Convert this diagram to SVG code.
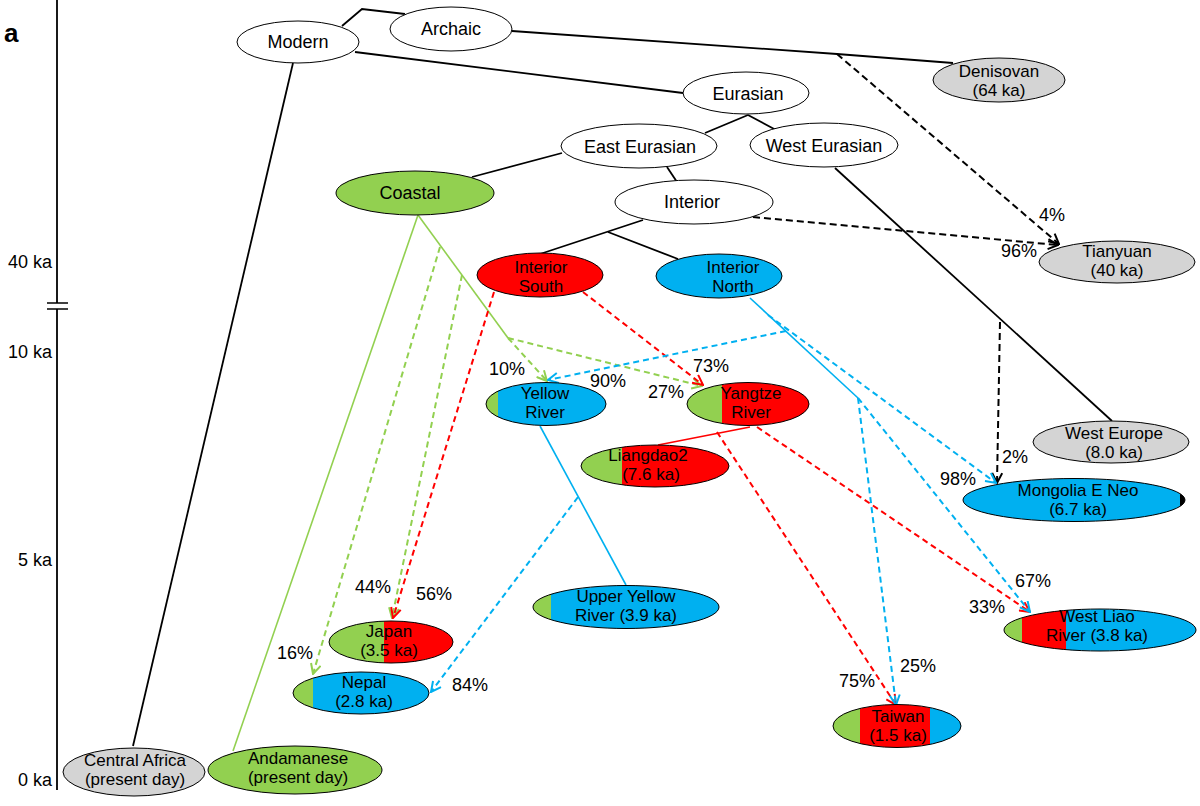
<svg xmlns="http://www.w3.org/2000/svg" width="1200" height="806" viewBox="0 0 1200 806">
<style>
text{font-family:"Liberation Sans",Arial,sans-serif;font-size:18px;fill:#000;text-anchor:middle}
.t2{font-size:17px}
.ax{text-anchor:end}
.node{stroke:#000;stroke-width:1}
.w{fill:#fff}
.g{fill:#d4d4d4}
.cg{fill:#92d050}
.cr{fill:#ff0000}
.cb{fill:#00b0f0}
.ol{fill:none;stroke:#000;stroke-width:1}
.k{fill:none;stroke:#000;stroke-width:1.8}
.kd{fill:none;stroke:#000;stroke-width:2;stroke-dasharray:7 4;marker-end:url(#ak)}
.gs{fill:none;stroke:#92d050;stroke-width:1.6}
.gd{fill:none;stroke:#92d050;stroke-width:2;stroke-dasharray:6 4;marker-end:url(#ag)}
.rs{fill:none;stroke:#ff0000;stroke-width:1.6}
.rd{fill:none;stroke:#ff0000;stroke-width:2;stroke-dasharray:6 4;marker-end:url(#ar)}
.bs{fill:none;stroke:#00b0f0;stroke-width:1.6}
.bd{fill:none;stroke:#00b0f0;stroke-width:2;stroke-dasharray:6 4;marker-end:url(#ab)}
</style>
<defs>
<marker id="ak" viewBox="0 0 12 12" refX="11" refY="6" markerWidth="12" markerHeight="12" markerUnits="userSpaceOnUse" orient="auto"><path d="M1,1 L11,6 L1,11" fill="none" stroke="#000" stroke-width="2"/></marker>
<marker id="ag" viewBox="0 0 12 12" refX="11" refY="6" markerWidth="12" markerHeight="12" markerUnits="userSpaceOnUse" orient="auto"><path d="M1,1 L11,6 L1,11" fill="none" stroke="#92d050" stroke-width="2"/></marker>
<marker id="ar" viewBox="0 0 12 12" refX="11" refY="6" markerWidth="12" markerHeight="12" markerUnits="userSpaceOnUse" orient="auto"><path d="M1,1 L11,6 L1,11" fill="none" stroke="#ff0000" stroke-width="2"/></marker>
<marker id="ab" viewBox="0 0 12 12" refX="11" refY="6" markerWidth="12" markerHeight="12" markerUnits="userSpaceOnUse" orient="auto"><path d="M1,1 L11,6 L1,11" fill="none" stroke="#00b0f0" stroke-width="2"/></marker>
<clipPath id="cYR"><ellipse cx="546" cy="404" rx="60" ry="21.5"/></clipPath>
<clipPath id="cYZ"><ellipse cx="748" cy="404" rx="61" ry="21.5"/></clipPath>
<clipPath id="cLD"><ellipse cx="655" cy="466" rx="74" ry="21"/></clipPath>
<clipPath id="cMG"><ellipse cx="1074" cy="500" rx="111" ry="21.5"/></clipPath>
<clipPath id="cWL"><ellipse cx="1100" cy="630" rx="96" ry="21"/></clipPath>
<clipPath id="cUY"><ellipse cx="626" cy="607" rx="93" ry="21.5"/></clipPath>
<clipPath id="cJP"><ellipse cx="391" cy="642" rx="62" ry="21"/></clipPath>
<clipPath id="cNP"><ellipse cx="361" cy="693" rx="68" ry="21"/></clipPath>
<clipPath id="cTW"><ellipse cx="897" cy="726" rx="64" ry="21.5"/></clipPath>
</defs>

<g id="axis">
<line x1="57" y1="0" x2="57" y2="303" stroke="#000" stroke-width="1.8"/>
<line x1="57" y1="309" x2="57" y2="790" stroke="#000" stroke-width="1.8"/>
<line x1="47" y1="303" x2="68" y2="303" stroke="#000" stroke-width="1.5"/>
<line x1="47" y1="309" x2="68" y2="309" stroke="#000" stroke-width="1.5"/>
<text x="52" y="268" class="ax">40 ka</text>
<text x="52" y="358" class="ax">10 ka</text>
<text x="52" y="566" class="ax">5 ka</text>
<text x="52" y="786" class="ax">0 ka</text>
<text x="4" y="42" style="text-anchor:start;font-weight:bold;font-size:26px">a</text>
</g>

<g id="connectors">
<path class="k" d="M342,26 L362,9 L405,14"/>
<path class="k" d="M512,31 L837,54 L953,63"/>
<path class="k" d="M355,52 L683,93"/>
<path class="k" d="M293,63 L133,746"/>
<path class="k" d="M748,115 L705,133 M748,115 L776,130"/>
<path class="k" d="M562,153 L472,177"/>
<path class="k" d="M667,167 L677,182"/>
<path class="k" d="M643,220 L540,254 M608,232 L678,259"/>
<path class="k" d="M835,168 L1112,421"/>
<path class="kd" d="M837,54 L1059,244"/>
<path class="kd" d="M753,217 L1058,245"/>
<path class="kd" d="M1000,322 L997,483"/>
<path class="gs" d="M418,215 L233,751"/>
<path class="gs" d="M418,215 L508,338"/>
<path class="gd" d="M508,338 L547,381"/>
<path class="gd" d="M508,338 L702,386"/>
<path class="gd" d="M440,247 L313,674"/>
<path class="gd" d="M462,275 L392,618"/>
<path class="rs" d="M750,427 L658,445"/>
<path class="rd" d="M494,292 L393,618"/>
<path class="rd" d="M583,292 L703,385"/>
<path class="rd" d="M757,427 L1030,612"/>
<path class="rd" d="M717,432 L896,705"/>
<path class="bs" d="M750,298 L858,398"/>
<path class="bs" d="M540,426 L626,585"/>
<path class="bd" d="M786,331 L548,380"/>
<path class="bd" d="M768,315 L996,483"/>
<path class="bd" d="M858,398 L896,705"/>
<path class="bd" d="M858,398 L1030,612"/>
<path class="bd" d="M578,497 L431,692"/>
<text x="1052" y="221">4%</text>
<text x="1019" y="257">96%</text>
<text x="507" y="375">10%</text>
<text x="608" y="387">90%</text>
<text x="666" y="398">27%</text>
<text x="711" y="372">73%</text>
<text x="1015" y="463">2%</text>
<text x="958" y="485">98%</text>
<text x="1033" y="587">67%</text>
<text x="987" y="613">33%</text>
<text x="857" y="687">75%</text>
<text x="918" y="672">25%</text>
<text x="373" y="593">44%</text>
<text x="434" y="600">56%</text>
<text x="295" y="659">16%</text>
<text x="470" y="691">84%</text>
</g>

<g id="modern"><ellipse class="node w" cx="298" cy="42" rx="61" ry="21"/><text x="298" y="48">Modern</text></g>
<g id="archaic"><ellipse class="node w" cx="451" cy="29" rx="61" ry="22"/><text x="451" y="35">Archaic</text></g>
<g id="denisovan"><ellipse class="node g" cx="999" cy="80" rx="66" ry="22"/><text class="t2" x="999" y="77">Denisovan</text><text class="t2" x="999" y="96">(64 ka)</text></g>
<g id="eurasian"><ellipse class="node w" cx="746" cy="93" rx="63" ry="21"/><text x="748" y="100">Eurasian</text></g>
<g id="east-eurasian"><ellipse class="node w" cx="639" cy="146" rx="78" ry="22"/><text x="640" y="153">East Eurasian</text></g>
<g id="west-eurasian"><ellipse class="node w" cx="824" cy="145" rx="74" ry="22"/><text x="824" y="152">West Eurasian</text></g>
<g id="coastal"><ellipse class="node cg" cx="415" cy="193" rx="79" ry="22"/><text x="410" y="199">Coastal</text></g>
<g id="interior"><ellipse class="node w" cx="694" cy="202" rx="79" ry="22"/><text x="692" y="208">Interior</text></g>
<g id="interior-south"><ellipse class="node cr" cx="540" cy="275" rx="63" ry="22"/><text class="t2" x="541" y="273">Interior</text><text class="t2" x="541" y="292">South</text></g>
<g id="interior-north"><ellipse class="node cb" cx="719" cy="276" rx="63" ry="22"/><text class="t2" x="733" y="273">Interior</text><text class="t2" x="733" y="292">North</text></g>
<g id="tianyuan"><ellipse class="node g" cx="1117" cy="262" rx="78" ry="21"/><text class="t2" x="1117" y="257">Tianyuan</text><text class="t2" x="1117" y="276">(40 ka)</text></g>

<g id="yellow-river"><g clip-path="url(#cYR)"><rect x="480" y="380" width="18" height="50" class="cg"/><rect x="498" y="380" width="120" height="50" class="cb"/></g><ellipse class="ol" cx="546" cy="404" rx="60" ry="21.5"/><text class="t2" x="545" y="399">Yellow</text><text class="t2" x="545" y="418">River</text></g>
<g id="yangtze-river"><g clip-path="url(#cYZ)"><rect x="680" y="380" width="42" height="50" class="cg"/><rect x="722" y="380" width="100" height="50" class="cr"/></g><ellipse class="ol" cx="748" cy="404" rx="61" ry="21.5"/><text class="t2" x="751" y="399">Yangtze</text><text class="t2" x="751" y="418">River</text></g>
<g id="liangdao2"><g clip-path="url(#cLD)"><rect x="575" y="440" width="47" height="50" class="cg"/><rect x="622" y="440" width="120" height="50" class="cr"/></g><ellipse class="ol" cx="655" cy="466" rx="74" ry="21"/><text class="t2" x="648" y="461">Liangdao2</text><text class="t2" x="651" y="480">(7.6 ka)</text></g>
<g id="west-europe"><ellipse class="node g" cx="1111" cy="442" rx="78" ry="21"/><text class="t2" x="1114" y="439">West Europe</text><text class="t2" x="1114" y="458">(8.0 ka)</text></g>
<g id="mongolia"><g clip-path="url(#cMG)"><rect x="960" y="475" width="220" height="50" class="cb"/><rect x="1180" y="475" width="10" height="50" fill="#000"/></g><ellipse class="ol" cx="1074" cy="500" rx="111" ry="21.5"/><text class="t2" x="1078" y="496">Mongolia E Neo</text><text class="t2" x="1078" y="515">(6.7 ka)</text></g>
<g id="west-liao"><g clip-path="url(#cWL)"><rect x="1000" y="605" width="22" height="50" class="cg"/><rect x="1022" y="605" width="44" height="50" class="cr"/><rect x="1066" y="605" width="135" height="50" class="cb"/></g><ellipse class="ol" cx="1100" cy="630" rx="96" ry="21"/><text class="t2" x="1097" y="622">West Liao</text><text class="t2" x="1097" y="641">River (3.8 ka)</text></g>
<g id="upper-yellow"><g clip-path="url(#cUY)"><rect x="530" y="583" width="21" height="50" class="cg"/><rect x="551" y="583" width="175" height="50" class="cb"/></g><ellipse class="ol" cx="626" cy="607" rx="93" ry="21.5"/><text class="t2" x="626" y="602">Upper Yellow</text><text class="t2" x="626" y="621">River (3.9 ka)</text></g>
<g id="japan"><g clip-path="url(#cJP)"><rect x="325" y="618" width="59" height="50" class="cg"/><rect x="384" y="618" width="75" height="50" class="cr"/></g><ellipse class="ol" cx="391" cy="642" rx="62" ry="21"/><text class="t2" x="389" y="637">Japan</text><text class="t2" x="389" y="656">(3.5 ka)</text></g>
<g id="nepal"><g clip-path="url(#cNP)"><rect x="290" y="668" width="23" height="50" class="cg"/><rect x="313" y="668" width="125" height="50" class="cb"/></g><ellipse class="ol" cx="361" cy="693" rx="68" ry="21"/><text class="t2" x="364" y="688">Nepal</text><text class="t2" x="364" y="707">(2.8 ka)</text></g>
<g id="taiwan"><g clip-path="url(#cTW)"><rect x="830" y="700" width="30" height="50" class="cg"/><rect x="860" y="700" width="70" height="50" class="cr"/><rect x="930" y="700" width="40" height="50" class="cb"/></g><ellipse class="ol" cx="897" cy="726" rx="64" ry="21.5"/><text class="t2" x="898" y="722">Taiwan</text><text class="t2" x="898" y="741">(1.5 ka)</text></g>
<g id="central-africa"><ellipse class="node g" cx="134" cy="772" rx="71" ry="24"/><text class="t2" x="135" y="766">Central Africa</text><text class="t2" x="135" y="785">(present day)</text></g>
<g id="andamanese"><ellipse class="node cg" cx="295" cy="770" rx="87" ry="24"/><text class="t2" x="298" y="764">Andamanese</text><text class="t2" x="298" y="783">(present day)</text></g>
</svg>
